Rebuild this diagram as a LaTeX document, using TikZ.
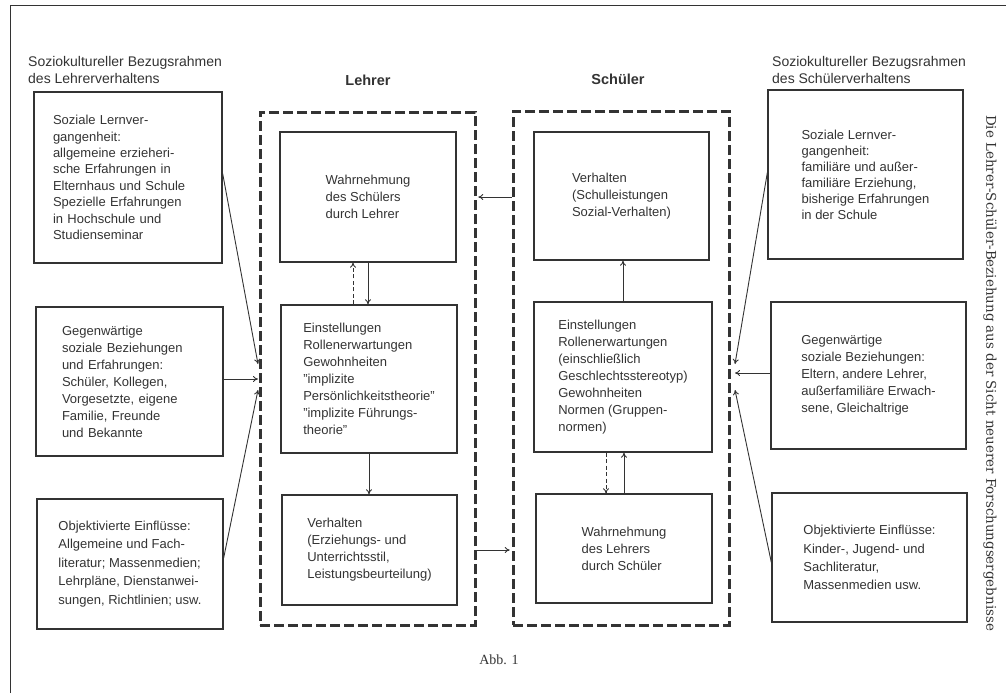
\documentclass[tikz,border=0pt]{standalone}
\usepackage{fontspec}
\setmainfont{Liberation Sans}
\newfontfamily\titleface{DejaVu Serif}
\newfontfamily\abbface{Liberation Serif}
\usetikzlibrary{arrows.meta}
\definecolor{ink}{rgb}{0.2,0.2,0.2}
\begin{document}
\begin{tikzpicture}[x=1pt,y=-1pt,
  every node/.style={text=ink, font=\fontsize{13}{17}\selectfont},
  box/.style={draw=ink, line width=1.3pt, align=left, inner sep=0pt, anchor=center},
  group/.style={draw=ink, line width=3pt, dash pattern=on 10pt off 4pt, inner sep=0pt, anchor=center},
  head/.style={font=\fontsize{14.5}{17}\selectfont\bfseries},
  arr/.style={draw=ink, line width=0.9pt, -{To[length=5pt,width=6pt]}},
  darr/.style={arr, dash pattern=on 4pt off 2.5pt},
]
\useasboundingbox (0,0) rectangle (1006,693);
\draw[ink, line width=1pt] (10,693) -- (10,6) -- (1006,6);

% headers
\node[align=left, anchor=west, inner sep=0pt, font=\fontsize{14}{17}\selectfont] (hl) at (28,70) {Soziokultureller Bezugsrahmen\\des Lehrerverhaltens};
\node[align=left, anchor=west, inner sep=0pt, font=\fontsize{14}{17}\selectfont] (hr) at (772,70) {Soziokultureller Bezugsrahmen\\des Schülerverhaltens};
\node[head] (hlehrer) at (368,80) {Lehrer};
\node[head] (hschueler) at (618,79) {Schüler};

% left column
\node[box, text width=150pt, inner xsep=19pt, minimum height=171pt, font=\fontsize{13}{16.4}\selectfont] (L1) at (128,177.5)
  {Soziale Lernver-\\gangenheit:\\allgemeine erzieheri-\\sche Erfahrungen in\\Elternhaus und Schule\\Spezielle Erfahrungen\\in Hochschule und\\Studienseminar};
\node[box, text width=135pt, inner xsep=26pt, minimum height=149pt] (L2) at (129.5,381.5)
  {Gegenwärtige\\soziale Beziehungen\\und Erfahrungen:\\Schüler, Kollegen,\\Vorgesetzte, eigene\\Familie, Freunde\\und Bekannte};
\node[box, minimum width=186pt, minimum height=130pt, font=\fontsize{13}{18.5}\selectfont] (L3) at (130,564)
  {Objektivierte Einflüsse:\\Allgemeine und Fach-\\literatur; Massenmedien;\\Lehrpläne, Dienstanwei-\\sungen, Richtlinien; usw.};

% Lehrer group
\node[group, minimum width=215pt, minimum height=513pt] (lehrerbox) at (367.5,368.5) {};
\node[box, minimum width=176pt, minimum height=130pt] (T1) at (368,197)
  {Wahrnehmung\\des Schülers\\durch Lehrer};
\node[box, minimum width=176pt, minimum height=148pt] (T2) at (369,379)
  {Einstellungen\\Rollenerwartungen\\Gewohnheiten\\"implizite\\Persönlichkeitstheorie"\\"implizite Führungs-\\theorie"};
\node[box, minimum width=175pt, minimum height=110pt] (T3) at (369.5,550)
  {Verhalten\\(Erziehungs- und\\Unterrichtsstil,\\Leistungsbeurteilung)};

% Schueler group
\node[group, minimum width=216pt, minimum height=514pt] (schuelerbox) at (621,368) {};
\node[box, minimum width=175pt, minimum height=128pt] (S1) at (621.5,196)
  {Verhalten\\(Schulleistungen\\Sozial-Verhalten)};
\node[box, minimum width=178pt, minimum height=150pt] (S2) at (623,377)
  {Einstellungen\\Rollenerwartungen\\(einschließlich\\Geschlechtsstereotyp)\\Gewohnheiten\\Normen (Gruppen-\\normen)};
\node[box, minimum width=176pt, minimum height=109pt] (S3) at (624,548.5)
  {Wahrnehmung\\des Lehrers\\durch Schüler};

% right column
\node[box, minimum width=195pt, minimum height=169pt, font=\fontsize{13}{16}\selectfont] (R1) at (865.5,174.5)
  {Soziale Lernver-\\gangenheit:\\familiäre und außer-\\familiäre Erziehung,\\bisherige Erfahrungen\\in der Schule};
\node[box, minimum width=195pt, minimum height=147pt] (R2) at (868.5,375.5)
  {Gegenwärtige\\soziale Beziehungen:\\Eltern, andere Lehrer,\\außerfamiliäre Erwach-\\sene, Gleichaltrige};
\node[box, minimum width=195pt, minimum height=129pt, font=\fontsize{13}{18.3}\selectfont] (R3) at (869.5,557.5)
  {Objektivierte Einflüsse:\\Kinder-, Jugend- und\\Sachliteratur,\\Massenmedien usw.};

% side title and caption
\node[rotate=-90, font=\titleface\fontsize{13.4}{17}\selectfont] (title) at (990,373)
  {Die Lehrer-Schüler-Beziehung aus der Sicht neuerer Forschungsergebnisse};
\node[font=\abbface\fontsize{14}{15}\selectfont] (abb) at (499,660) {Abb. 1};

% convergence points
\coordinate (cl) at (258,379);
\coordinate (cr) at (735,373);

% left influences
\draw[arr] ([yshift=4pt]L1.east) -- ([yshift=15pt]cl);
\draw[arr] (L2.east |- cl) -- (cl);
\draw[arr] ([yshift=6pt]L3.east) -- ([yshift=-11pt]cl);

% right influences
\draw[arr] ([yshift=2pt]R1.west) -- ([yshift=9pt]cr);
\draw[arr] (R2.west |- cr) -- (cr);
\draw[arr] ([yshift=-5pt]R3.west) -- ([yshift=-17pt]cr);

% between groups
\draw[arr, shorten >=1.8pt] (schuelerbox.west |- T1.center) -- (lehrerbox.east |- T1.center);
\draw[arr, shorten >=1.8pt] (lehrerbox.east |- T3.center) -- (schuelerbox.west |- T3.center);

% inside Lehrer
\draw[darr] ([xshift=-16pt]T2.north) -- ([xshift=-16pt]T2.north |- T1.south);
\draw[arr] (T1.south) -- (T1.south |- T2.north);
\draw[arr] (T2.south) -- (T2.south |- T3.north);

% inside Schueler
\draw[arr] (S2.north) -- (S2.north |- S1.south);
\draw[darr] ([xshift=-18pt]S3.north |- S2.south) -- ([xshift=-18pt]S3.north);
\draw[arr] (S3.north) -- (S3.north |- S2.south);
\end{tikzpicture}
\end{document}
